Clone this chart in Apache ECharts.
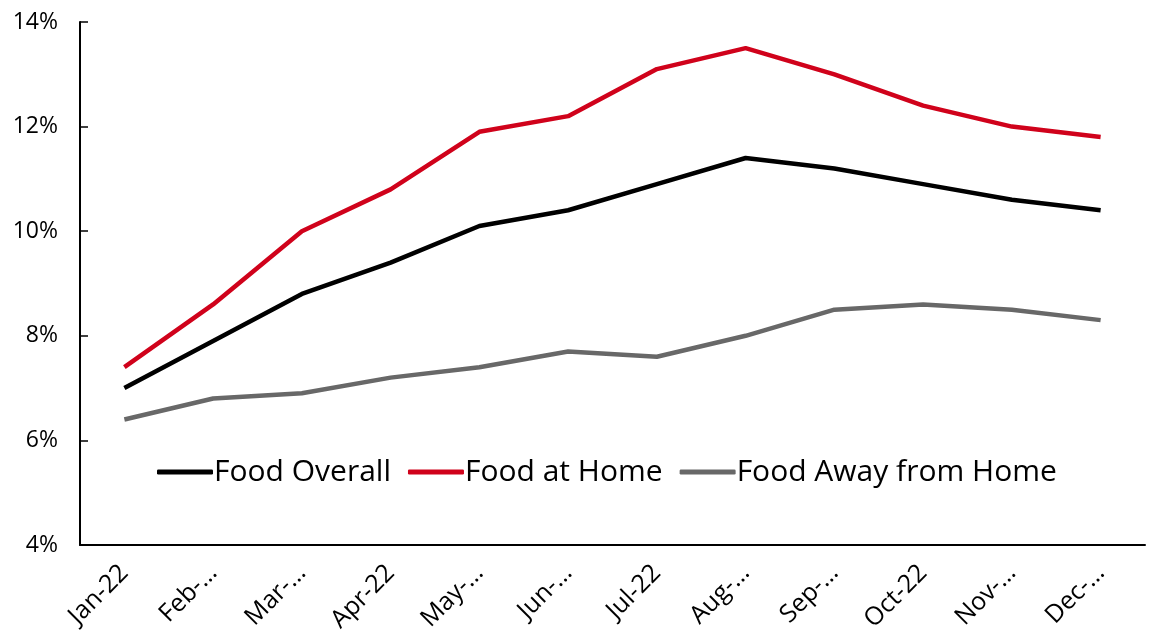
<!DOCTYPE html>
<html><head><meta charset="utf-8">
<script src="https://cdn.jsdelivr.net/npm/echarts@6/dist/echarts.min.js"></script>
<style>html,body{margin:0;padding:0;background:#fff}#c{width:1153px;height:634px}</style>
</head><body><div id="c"></div>
<script>
const categories = ["Jan-22","Feb-…","Mar-…","Apr-22","May-…","Jun-…","Jul-22","Aug-…","Sep-…","Oct-22","Nov-…","Dec-…"];
const foodOverall = [7.0,7.9,8.8,9.4,10.1,10.4,10.9,11.4,11.2,10.9,10.6,10.4];
const foodAtHome = [7.4,8.6,10.0,10.8,11.9,12.2,13.1,13.5,13.0,12.4,12.0,11.8];
const foodAway = [6.4,6.8,6.9,7.2,7.4,7.7,7.6,8.0,8.5,8.6,8.5,8.3];
const seriesNames = ["Food Overall","Food at Home","Food Away from Home"];
const colors = ["#000000","#d0021b","#686868"];
const font = "'Open Sans', sans-serif";
const chart = echarts.init(document.getElementById('c'));
chart.setOption({
  animation:false,
  color: colors,
  grid:{left:80,right:8,top:22,bottom:89,outerBoundsMode:'none',containLabel:false},
  legend:{
    left:152, top:452, icon:'roundRect', itemWidth:56, itemHeight:5, itemGap:17,
    textStyle:{fontFamily:font,fontSize:30,color:'#000',padding:[0,0,0,-4]},
    data:seriesNames
  },
  xAxis:{
    type:'category', data:categories, boundaryGap:true,
    axisLine:{lineStyle:{color:'#000',width:2}},
    axisTick:{inside:true,length:8,lineStyle:{color:'#000',width:1.5}},
    axisLabel:{rotate:45,fontFamily:font,fontSize:25,color:'#000',margin:24,interval:0}
  },
  yAxis:{
    type:'value', min:4, max:14, interval:2,
    splitLine:{show:false},
    axisLine:{show:true,lineStyle:{color:'#000',width:2}},
    axisTick:{show:true,inside:true,length:8,lineStyle:{color:'#000',width:1.5}},
    axisLabel:{formatter:'{value}%',fontFamily:font,fontSize:23,color:'#000',margin:22}
  },
  series:[
    {name:seriesNames[0],type:'line',data:foodOverall,symbol:'none',lineStyle:{width:4.5,color:colors[0]}},
    {name:seriesNames[1],type:'line',data:foodAtHome,symbol:'none',lineStyle:{width:4.5,color:colors[1]}},
    {name:seriesNames[2],type:'line',data:foodAway,symbol:'none',lineStyle:{width:4.5,color:colors[2]}}
  ]
});
</script></body></html>
